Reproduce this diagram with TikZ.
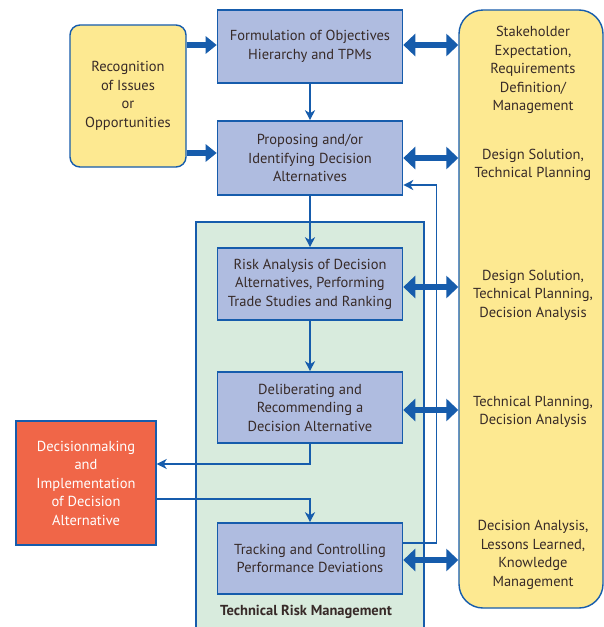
\documentclass[tikz,border=0pt]{standalone}
\usepackage{fontspec}
\setmainfont{PT Sans}
\usetikzlibrary{arrows.meta}

\definecolor{boxblue}{RGB}{175,188,224}
\definecolor{lineblue}{RGB}{22,92,172}
\definecolor{paleyellow}{RGB}{253,233,145}
\definecolor{palegreen}{RGB}{216,235,221}
\definecolor{decred}{RGB}{240,102,72}
\definecolor{inkbrown}{RGB}{55,42,40}

\tikzset{
  stepbox/.style={rectangle, draw=lineblue, line width=1.6pt, fill=boxblue, minimum width=185pt, align=center},
  sidebox/.style={rounded corners=#1, draw=lineblue, line width=1.4pt, fill=paleyellow},
  sidetext/.style={align=center, inner sep=0pt},
  fatarrow/.style={draw=lineblue, line width=6pt, -{Triangle[length=11pt,width=17pt]}},
  dblarrow/.style={draw=lineblue, line width=6pt, {Triangle[length=12pt,width=22pt]}-{Triangle[length=12pt,width=22pt]}},
  thinarrow/.style={draw=lineblue, line width=1.5pt, -{Stealth[length=10pt,width=10pt,inset=3pt]}}
}

\begin{document}
\begin{tikzpicture}[x=1pt, y=-1pt, every node/.style={font=\fontsize{14.5}{18.5}\selectfont, text=inkbrown}]
			\clip (0,0) rectangle (604,627);
			\fill[white] (0,0) rectangle (604,627);

			\node[draw=lineblue, line width=1.2pt, fill=palegreen, minimum width=228pt, minimum height=420pt] (trm) at (310,432){};
			\node[font=\fontsize{14.5}{16}\selectfont\bfseries] (trmlabel) at (306,612) {Technical Risk Management};

			\node[sidebox=10pt, minimum width=116pt, minimum height=142pt, align=center] (rec) at (128,96) {Recognition\\of Issues\\or\\Opportunities};
			\node[sidebox=24pt, minimum width=144pt, minimum height=598pt] (side) at (531,309){};

			\node[stepbox, minimum height=73pt] (obj) at (310,46.5) {Formulation of Objectives\\Hierarchy and TPMs};
			\node[stepbox, minimum height=74pt] (prop) at (310,158) {Proposing and/or\\Identifying Decision\\Alternatives};
			\node[stepbox, minimum height=72pt] (risk) at (310,284) {Risk Analysis of Decision\\Alternatives, Performing\\Trade Studies and Ranking};
			\node[stepbox, minimum height=71pt] (delib) at (310,407.5) {Deliberating and\\Recommending a\\Decision Alternative};
			\node[stepbox, minimum height=71pt] (track) at (310,558.5) {Tracking and Controlling\\Performance Deviations};

			\node[rectangle, draw=lineblue, line width=1.4pt, fill=decred, minimum width=140pt, minimum height=124pt, align=center, text=white] (dec) at (86,483) {Decisionmaking\\and\\Implementation\\of Decision\\Alternative};

			\node[sidetext] (req) at (533,70) {Stakeholder\\Expectation,\\Requirements\\Definition/\\Management};
			\node[sidetext] (design) at (533,165) {Design Solution,\\Technical Planning};
			\node[sidetext] (analysis) at (533,295) {Design Solution,\\Technical Planning,\\Decision Analysis};
			\node[sidetext] (planning) at (533,412) {Technical Planning,\\Decision Analysis};
			\node[sidetext] (lessons) at (533,555) {Decision Analysis,\\Lessons Learned,\\Knowledge\\Management};

			\path[thinarrow] (obj) -- (prop);
			\path[thinarrow] (prop) -- (risk);
			\path[thinarrow] (risk) -- (delib);
			\path[thinarrow] (delib.south) |- ([yshift=19pt]dec.east);
			\path[thinarrow] ([yshift=-16pt]dec.east) -| (track.north);
			\path[thinarrow] ([yshift=15.5pt]track.east) -- ++(33,0) |- ([yshift=-27pt]prop.east);

			\path[fatarrow] ([yshift=1.5pt]rec.north east |- obj.west) -- ([yshift=1.5pt]obj.west);
			\path[fatarrow] ([yshift=5pt]rec.east |- prop.west) -- ([yshift=5pt]prop.west);

			\path[dblarrow] ([yshift=1.5pt]obj.east) -- ([yshift=1.5pt]obj.east -| side.west);
			\path[dblarrow] (prop.east) -- (prop.east -| side.west);
			\path[dblarrow] ([yshift=-3pt]risk.east) -- ([yshift=-3pt]risk.east -| side.west);
			\path[dblarrow] ([yshift=-2.5pt]delib.east) -- ([yshift=-2.5pt]delib.east -| side.west);
			\path[dblarrow] ([yshift=-1.5pt]track.east) -- ([yshift=-1.5pt]track.east -| side.west);
\end{tikzpicture}
\end{document}
